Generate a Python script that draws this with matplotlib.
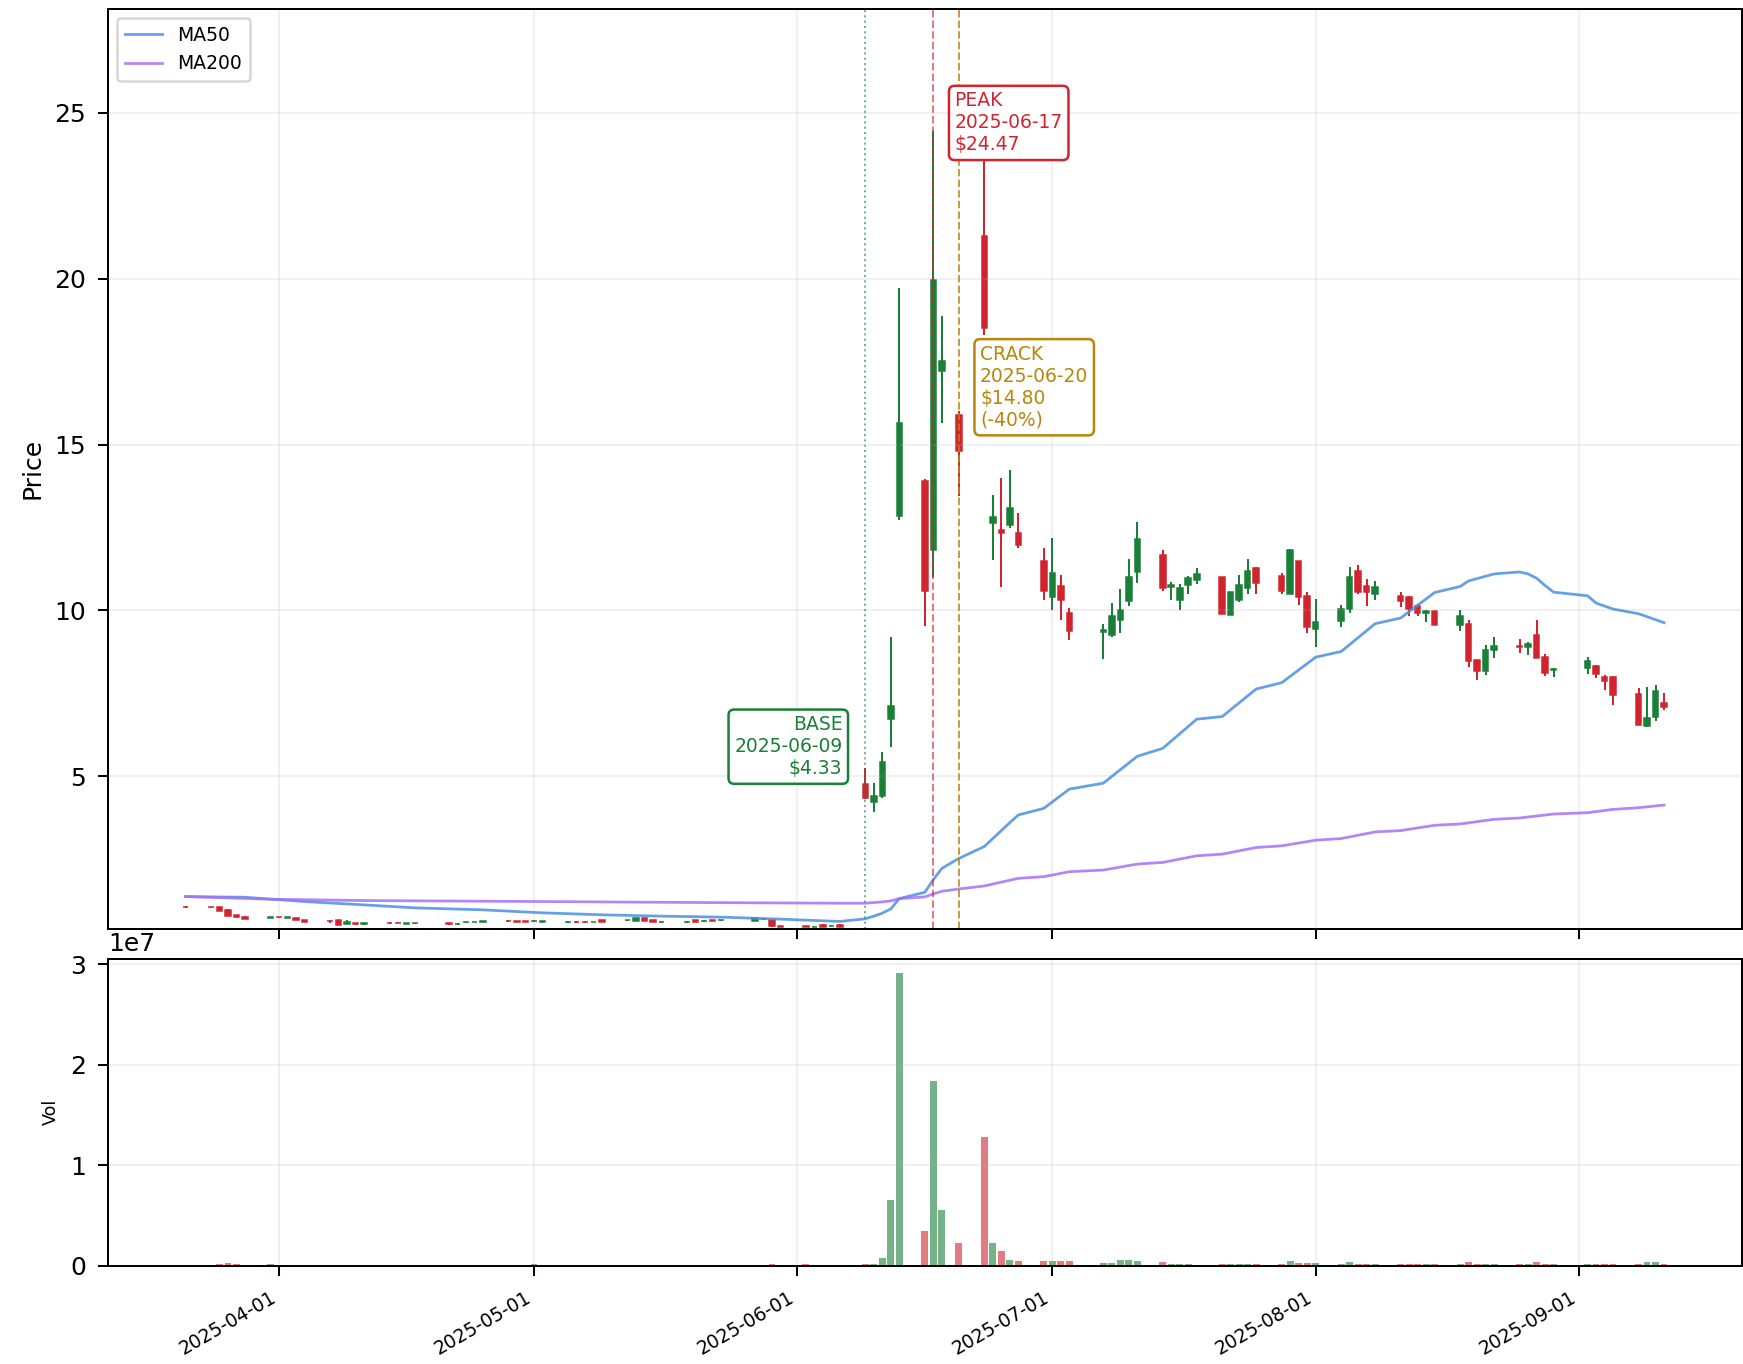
import numpy as np
import pandas as pd
import matplotlib
matplotlib.use("Agg")
import matplotlib.pyplot as plt
import matplotlib.dates as mdates

#TRADING DAYS (NYSE calendar, holidays removed)
holidays = ["2025-04-18", "2025-05-26", "2025-06-19", "2025-07-04", "2025-09-01"]
dates = pd.bdate_range("2025-03-21", "2025-09-11", freq="C", holidays=holidays)

#OHLC, one row of values per month
opens = [1.06, 1.06, 1.06, 0.98, 0.82, 0.76, 0.73,
         0.75, 0.72, 0.71, 0.66, 0.63, 0.66, 0.55, 0.56, 0.53, 0.58, 0.58, 0.55, 0.56, 0.57, 0.54, 0.59, 0.60, 0.61, 0.63, 0.62, 0.63,
         0.62, 0.61, 0.60, 0.61, 0.61, 0.60, 0.66, 0.65, 0.645, 0.715, 0.665, 0.59, 0.59, 0.665, 0.63, 0.65, 0.65, 0.645, 0.68, 0.665, 0.47,
         0.48, 0.455, 0.52, 0.48, 0.52, 4.77, 4.23, 4.41, 6.72, 12.85, 13.89, 11.83, 17.21, 15.90, 21.28, 12.65, 12.43, 12.58, 12.33, 11.48,
         10.40, 10.74, 9.92, 9.35, 9.26, 9.72, 10.27, 11.17, 11.68, 10.70, 10.30, 10.77, 10.92, 11.00, 9.87, 10.30, 10.67, 11.29, 11.04, 10.50, 11.48, 10.44,
         9.44, 9.67, 10.04, 11.20, 10.74, 10.50, 10.42, 10.39, 10.12, 9.92, 9.97, 9.57, 9.60, 8.49, 8.16, 8.81, 8.93, 8.91, 9.26, 8.59, 8.19,
         8.26, 8.33, 8.00, 7.99, 7.48, 6.50, 6.78, 7.22]
highs = [1.08, 1.06, 1.07, 0.99, 0.82, 0.77, 0.76,
         0.76, 0.74, 0.71, 0.67, 0.66, 0.67, 0.66, 0.57, 0.56, 0.60, 0.60, 0.56, 0.58, 0.57, 0.57, 0.60, 0.61, 0.64, 0.65, 0.64, 0.63,
         0.65, 0.63, 0.62, 0.63, 0.62, 0.61, 0.67, 0.67, 0.72, 0.72, 0.67, 0.62, 0.62, 0.67, 0.66, 0.67, 0.67, 0.72, 0.69, 0.67, 0.47,
         0.49, 0.47, 0.53, 0.51, 0.53, 5.24, 4.81, 5.72, 9.21, 19.73, 13.95, 24.47, 18.87, 16.00, 23.90, 13.49, 13.99, 14.22, 12.94, 11.88,
         12.18, 11.07, 10.07, 9.60, 10.22, 10.64, 11.55, 12.68, 11.83, 10.87, 10.80, 11.04, 11.29, 11.02, 10.57, 11.07, 11.55, 11.30, 11.14, 11.85, 11.50, 10.57,
         10.34, 10.17, 11.30, 11.38, 10.94, 10.89, 10.57, 10.42, 10.20, 10.00, 9.98, 10.02, 9.70, 8.50, 8.96, 9.19, 9.13, 9.05, 9.70, 8.69, 8.25,
         8.59, 8.36, 8.05, 8.03, 7.66, 7.70, 7.75, 7.52]
lows = [1.04, 1.04, 0.94, 0.77, 0.73, 0.68, 0.72,
        0.72, 0.72, 0.66, 0.60, 0.58, 0.50, 0.53, 0.52, 0.52, 0.55, 0.56, 0.54, 0.55, 0.52, 0.52, 0.58, 0.59, 0.60, 0.60, 0.60, 0.59,
        0.61, 0.60, 0.58, 0.58, 0.58, 0.59, 0.59, 0.64, 0.64, 0.64, 0.59, 0.58, 0.58, 0.59, 0.61, 0.62, 0.64, 0.64, 0.67, 0.46, 0.45,
        0.445, 0.45, 0.46, 0.47, 0.46, 4.30, 3.93, 4.35, 5.87, 12.73, 9.53, 11.00, 15.65, 13.44, 18.30, 11.53, 10.70, 12.50, 11.88, 10.32,
        10.02, 9.72, 9.11, 8.53, 9.20, 9.31, 10.12, 10.84, 10.60, 10.32, 10.02, 10.50, 10.80, 9.88, 9.85, 10.25, 10.50, 10.50, 10.50, 10.48, 10.17, 9.31,
        8.91, 9.51, 9.92, 10.50, 10.12, 10.32, 10.10, 9.84, 9.84, 9.64, 9.55, 9.39, 8.29, 7.91, 8.06, 8.56, 8.71, 8.66, 8.55, 8.03, 8.00,
        8.09, 7.96, 7.60, 7.15, 6.55, 6.48, 6.65, 7.00]
closes = [1.05, 1.05, 0.95, 0.78, 0.74, 0.69, 0.74,
          0.74, 0.74, 0.67, 0.61, 0.62, 0.51, 0.60, 0.53, 0.56, 0.57, 0.57, 0.56, 0.57, 0.53, 0.55, 0.60, 0.61, 0.62, 0.62, 0.61, 0.60,
          0.63, 0.62, 0.61, 0.60, 0.60, 0.61, 0.60, 0.66, 0.715, 0.645, 0.595, 0.60, 0.60, 0.595, 0.64, 0.64, 0.66, 0.715, 0.69, 0.47, 0.46,
          0.45, 0.465, 0.465, 0.49, 0.465, 4.33, 4.41, 5.44, 7.12, 15.65, 10.60, 19.97, 17.51, 14.80, 18.52, 12.83, 12.33, 13.09, 11.98, 10.60,
          11.14, 10.32, 9.39, 9.41, 9.82, 10.00, 11.00, 12.16, 10.67, 10.77, 10.67, 10.97, 11.10, 9.90, 10.57, 10.77, 11.20, 10.82, 10.60, 11.83, 10.40, 9.50,
          9.64, 10.04, 11.00, 10.54, 10.54, 10.72, 10.27, 10.04, 9.92, 9.97, 9.57, 9.82, 8.46, 8.16, 8.81, 8.93, 8.89, 8.99, 8.56, 8.11, 8.24,
          8.46, 8.09, 7.88, 7.45, 6.55, 6.75, 7.58, 7.08]
volumes = [3e4, 3e4, 2e5, 2.5e5, 2e5, 5e4, 1.5e5,
           3e4, 3e4, 3e4, 3e4, 3e4, 3e4, 3e4, 3e4, 3e4, 3e4, 3e4, 3e4, 3e4, 3e4, 3e4, 3e4, 3e4, 3e4, 3e4, 3e4, 3e4,
           1.5e5, 3e4, 3e4, 3e4, 3e4, 3e4, 3e4, 3e4, 3e4, 3e4, 3e4, 3e4, 3e4, 3e4, 3e4, 3e4, 3e4, 3e4, 3e4, 1.5e5, 3e4,
           1.5e5, 3e4, 3e4, 3e4, 3e4, 1.7e5, 1.5e5, 8e5, 6.5e6, 2.91e7, 3.47e6, 1.84e7, 5.55e6, 2.25e6, 1.28e7, 2.25e6, 1.42e6, 6e5, 5e5, 5e5,
           5e5, 5e5, 5e5, 2.5e5, 3e5, 6e5, 6e5, 4.5e5, 3.5e5, 1.5e5, 1.5e5, 1.5e5, 1e5, 1.5e5, 1.5e5, 1.5e5, 1.5e5, 1.5e5, 1.5e5, 4.5e5, 3e5, 3e5,
           2.5e5, 1.5e5, 3.5e5, 2e5, 1.5e5, 1.5e5, 1.2e5, 1.2e5, 1.2e5, 1.2e5, 1.2e5, 1.5e5, 3.5e5, 2e5, 2e5, 1.5e5, 1.2e5, 1.5e5, 3.5e5, 2e5, 1.2e5,
           1.5e5, 1.5e5, 1.5e5, 1.5e5, 1.5e5, 3.5e5, 3.5e5, 1.5e5]

#MOVING AVERAGES (values read at the visible kinks)
ma50_dates = ["2025-03-21", "2025-03-28", "2025-04-04", "2025-04-11", "2025-04-17", "2025-04-25", "2025-05-02", "2025-05-09",
              "2025-05-16", "2025-05-23", "2025-05-30", "2025-06-06", "2025-06-09", "2025-06-10", "2025-06-11", "2025-06-12",
              "2025-06-13", "2025-06-16", "2025-06-17", "2025-06-18", "2025-06-20", "2025-06-23", "2025-06-24", "2025-06-25",
              "2025-06-26", "2025-06-27", "2025-06-30", "2025-07-03", "2025-07-07", "2025-07-11", "2025-07-14", "2025-07-18",
              "2025-07-21", "2025-07-25", "2025-07-28", "2025-08-01", "2025-08-04", "2025-08-08", "2025-08-11", "2025-08-15",
              "2025-08-18", "2025-08-19", "2025-08-22", "2025-08-25", "2025-08-26", "2025-08-27", "2025-08-28", "2025-08-29",
              "2025-09-02", "2025-09-03", "2025-09-05", "2025-09-08", "2025-09-11"]
ma50_vals = [1.37, 1.35, 1.22, 1.12, 1.03, 0.97, 0.88, 0.82,
             0.78, 0.75, 0.69, 0.62, 0.70, 0.78, 0.87, 1.00,
             1.31, 1.50, 1.88, 2.22, 2.52, 2.88, 3.12, 3.36,
             3.60, 3.83, 4.03, 4.61, 4.79, 5.60, 5.84, 6.72,
             6.80, 7.63, 7.82, 8.59, 8.76, 9.60, 9.77, 10.54,
             10.72, 10.89, 11.10, 11.16, 11.10, 10.97, 10.75, 10.55,
             10.44, 10.22, 10.04, 9.90, 9.63]
ma200_dates = ["2025-03-21", "2025-03-31", "2025-04-11", "2025-05-02", "2025-05-21", "2025-06-06", "2025-06-09", "2025-06-10",
               "2025-06-11", "2025-06-12", "2025-06-13", "2025-06-16", "2025-06-17", "2025-06-18", "2025-06-20", "2025-06-23",
               "2025-06-27", "2025-06-30", "2025-07-03", "2025-07-07", "2025-07-11", "2025-07-14", "2025-07-18", "2025-07-21",
               "2025-07-25", "2025-07-28", "2025-08-01", "2025-08-04", "2025-08-08", "2025-08-11", "2025-08-15", "2025-08-18",
               "2025-08-22", "2025-08-25", "2025-08-29", "2025-09-02", "2025-09-05", "2025-09-08", "2025-09-11"]
ma200_vals = [1.37, 1.29, 1.25, 1.22, 1.19, 1.17, 1.17, 1.19,
              1.21, 1.24, 1.31, 1.36, 1.45, 1.53, 1.60, 1.69,
              1.92, 1.97, 2.12, 2.17, 2.35, 2.40, 2.60, 2.65,
              2.85, 2.90, 3.07, 3.12, 3.32, 3.36, 3.52, 3.56,
              3.70, 3.74, 3.86, 3.90, 4.00, 4.05, 4.13]

#EVENTS
base_date, base_price = "2025-06-09", 4.33
peak_date, peak_price = "2025-06-17", 24.47
crack_date, crack_price = "2025-06-20", 14.80

GREEN = "#1a7f37"
RED = "#d1242f"
GOLD = "#b8860b"

opens = np.array(opens)
highs = np.array(highs)
lows = np.array(lows)
closes = np.array(closes)
volumes = np.array(volumes)
up = closes >= opens
colors = np.where(up, GREEN, RED)

fig = plt.figure(figsize=(1744 / 180, 1364 / 180), dpi=180)
ax = fig.add_axes([0.0619, 0.3191, 0.9368, 0.6744])
axv = fig.add_axes([0.0619, 0.0721, 0.9368, 0.2250], sharex=ax)

#CANDLES
ax.vlines(dates, lows, highs, colors=colors, linewidth=0.8)
ax.bar(dates, np.abs(closes - opens), bottom=np.minimum(opens, closes), width=0.65,
       color=colors, edgecolor=colors, linewidth=0.6)

ax.plot(pd.to_datetime(ma50_dates), ma50_vals, color="#4a90e2", linewidth=1.1, alpha=0.85, label="MA50")
ax.plot(pd.to_datetime(ma200_dates), ma200_vals, color="#a371f7", linewidth=1.1, alpha=0.85, label="MA200")

ax.axvline(pd.Timestamp(base_date), color=GREEN, linestyle=":", linewidth=0.8, alpha=0.6)
ax.axvline(pd.Timestamp(peak_date), color=RED, linestyle="--", linewidth=0.8, alpha=0.6)
ax.axvline(pd.Timestamp(crack_date), color=GOLD, linestyle="--", linewidth=0.8, alpha=0.8)

#LABEL BOXES
ax.text(pd.Timestamp(base_date) - pd.Timedelta(days=2.7), 5.89,
        "BASE\n%s\n$%.2f" % (base_date, base_price), color=GREEN, fontsize=7.5,
        ha="right", va="center", multialignment="right",
        bbox=dict(boxstyle="round,pad=0.3", fc="white", ec=GREEN, lw=1.0))
ax.text(pd.Timestamp(peak_date) + pd.Timedelta(days=2.5), 24.7,
        "PEAK\n%s\n$%.2f" % (peak_date, peak_price), color=RED, fontsize=7.5,
        ha="left", va="center",
        bbox=dict(boxstyle="round,pad=0.3", fc="white", ec=RED, lw=1.0))
drop = (crack_price / peak_price - 1) * 100
ax.text(pd.Timestamp(crack_date) + pd.Timedelta(days=2.5), 16.73,
        "CRACK\n%s\n$%.2f\n(%.0f%%)" % (crack_date, crack_price, drop), color=GOLD, fontsize=7.5,
        ha="left", va="center",
        bbox=dict(boxstyle="round,pad=0.3", fc="white", ec=GOLD, lw=1.0))

ax.set_ylim(0.4, 28.14)
ax.set_ylabel("Price")
ax.grid(True, alpha=0.25, linewidth=0.6)
ax.legend(loc="upper left", fontsize=7.5)
ax.tick_params(length=4, pad=4.8)
plt.setp(ax.get_xticklabels(), visible=False)

#VOLUME
axv.bar(dates, volumes, width=0.8, color=colors, alpha=0.6)
axv.set_ylabel("Vol", fontsize=7)
axv.grid(True, alpha=0.25, linewidth=0.6)
axv.tick_params(length=4, pad=4.8)
axv.xaxis.set_major_locator(mdates.MonthLocator())
axv.xaxis.set_major_formatter(mdates.DateFormatter("%Y-%m-%d"))
plt.setp(axv.get_xticklabels(), rotation=30, ha="right", fontsize=7.5)

fig.savefig("out.png", dpi=180)
